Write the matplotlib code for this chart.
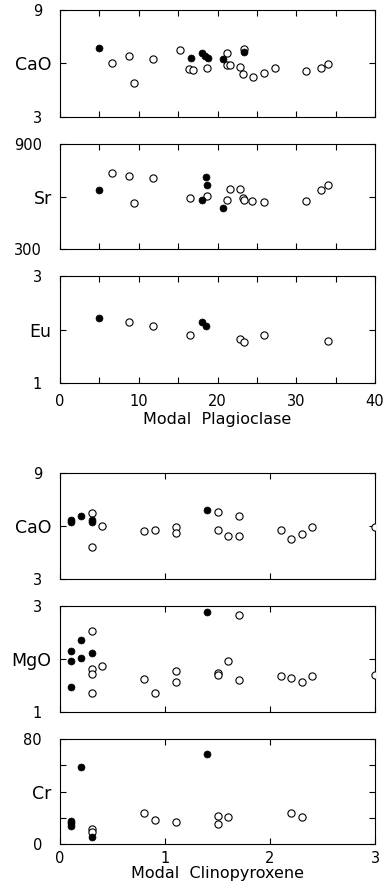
import matplotlib
matplotlib.use("Agg")
import matplotlib.pyplot as plt
from matplotlib.ticker import FixedLocator

plt.rcParams['font.family'] = ['DejaVu Sans']

# ---------------- Top group: vs Modal Plagioclase ----------------
plag_cao_filled_x = [4.9, 16.6, 18.0, 18.4, 18.8, 20.7, 23.3]
plag_cao_filled_y = [6.88, 6.28, 6.56, 6.43, 6.32, 6.26, 6.62]
plag_cao_open_x = [6.6, 8.8, 9.35, 11.8, 15.2, 16.4, 16.9, 18.7, 21.2, 21.2, 21.6,
                   22.9, 23.2, 23.3, 24.5, 25.9, 27.3, 31.2, 33.1, 34.0]
plag_cao_open_y = [6.02, 6.41, 4.88, 6.26, 6.73, 5.70, 5.62, 5.76, 6.56, 5.94, 5.91,
                   5.81, 5.40, 6.79, 5.27, 5.46, 5.76, 5.57, 5.76, 5.96]

plag_sr_filled_x = [4.9, 18.5, 18.7, 18.0, 20.7]
plag_sr_filled_y = [638, 710, 666, 583, 532]
plag_sr_open_x = [6.6, 8.8, 9.35, 11.8, 16.5, 18.7, 21.2, 21.6, 22.9, 23.2, 23.4,
                  24.4, 25.9, 31.2, 33.1, 34.0]
plag_sr_open_y = [737, 720, 564, 704, 590, 604, 579, 646, 646, 590, 583,
                  575, 568, 577, 638, 665]

plag_eu_filled_x = [4.9, 18.0, 18.6]
plag_eu_filled_y = [2.22, 2.14, 2.07]
plag_eu_open_x = [8.8, 11.8, 16.5, 22.9, 23.3, 25.9, 34.0]
plag_eu_open_y = [2.14, 2.06, 1.90, 1.82, 1.76, 1.90, 1.79]

# ---------------- Bottom group: vs Modal Clinopyroxene ----------------
cpx_cao_filled_x = [0.1, 0.1, 0.2, 0.3, 0.3, 1.4]
cpx_cao_filled_y = [6.22, 6.32, 6.55, 6.35, 6.22, 6.89]
cpx_cao_open_x = [0.3, 0.3, 0.4, 0.8, 0.9, 1.1, 1.1, 1.5, 1.5, 1.6, 1.7, 1.7,
                  2.1, 2.2, 2.3, 2.4, 3.0]
cpx_cao_open_y = [6.72, 4.81, 6.0, 5.70, 5.75, 5.94, 5.60, 6.77, 5.79, 5.45, 6.55, 5.42,
                  5.75, 5.26, 5.55, 5.92, 5.94]

cpx_mgo_filled_x = [0.1, 0.1, 0.1, 0.2, 0.2, 0.3, 1.4]
cpx_mgo_filled_y = [2.15, 1.96, 1.47, 2.36, 2.02, 2.12, 2.89]
cpx_mgo_open_x = [0.3, 0.3, 0.3, 0.3, 0.4, 0.8, 0.9, 1.1, 1.1, 1.5, 1.5, 1.6, 1.7, 1.7,
                  2.1, 2.2, 2.3, 2.4, 3.0]
cpx_mgo_open_y = [2.53, 1.82, 1.71, 1.35, 1.87, 1.62, 1.35, 1.78, 1.57, 1.74, 1.69, 1.96,
                  1.61, 2.83, 1.68, 1.64, 1.57, 1.68, 1.69]

cpx_cr_filled_x = [0.2, 1.4, 0.1, 0.1, 0.1, 0.3]
cpx_cr_filled_y = [59.1, 68.5, 17.6, 15.8, 13.8, 5.1]
cpx_cr_open_x = [0.3, 0.3, 0.8, 0.9, 1.1, 1.5, 1.5, 1.6, 2.2, 2.3]
cpx_cr_open_y = [11.2, 8.8, 23.4, 18.3, 17.1, 21.4, 15.3, 20.9, 23.9, 20.9]

panels = [
    dict(rect=[0.1567, 0.8687, 0.8225, 0.1201], ylim=(3, 9), yt=[3, 9], ylab=['3', '9'],
         mid=6, name='CaO', f=(plag_cao_filled_x, plag_cao_filled_y),
         o=(plag_cao_open_x, plag_cao_open_y), xlim=(0, 40),
         xt=[0, 10, 20, 30, 40], xm=[5, 15, 25, 35], xl=None),
    dict(rect=[0.1567, 0.7205, 0.8225, 0.1178], ylim=(300, 900), yt=[300, 900], ylab=['300', '900'],
         mid=600, name='Sr', f=(plag_sr_filled_x, plag_sr_filled_y),
         o=(plag_sr_open_x, plag_sr_open_y), xlim=(0, 40),
         xt=[0, 10, 20, 30, 40], xm=[5, 15, 25, 35], xl=None),
    dict(rect=[0.1567, 0.5701, 0.8225, 0.1201], ylim=(1, 3), yt=[1, 3], ylab=['1', '3'],
         mid=2, name='Eu', f=(plag_eu_filled_x, plag_eu_filled_y),
         o=(plag_eu_open_x, plag_eu_open_y), xlim=(0, 40),
         xt=[0, 10, 20, 30, 40], xm=[5, 15, 25, 35], xl='Modal  Plagioclase',
         tpad=8, lpad=2),
    dict(rect=[0.1567, 0.3502, 0.8225, 0.1190], ylim=(3, 9), yt=[3, 9], ylab=['3', '9'],
         mid=6, name='CaO', f=(cpx_cao_filled_x, cpx_cao_filled_y),
         o=(cpx_cao_open_x, cpx_cao_open_y), xlim=(0, 3),
         xt=[0, 1, 2, 3], xm=[], xl=None),
    dict(rect=[0.1567, 0.2009, 0.8225, 0.1190], ylim=(1, 3), yt=[1, 3], ylab=['1', '3'],
         mid=2, name='MgO', f=(cpx_mgo_filled_x, cpx_mgo_filled_y),
         o=(cpx_mgo_open_x, cpx_mgo_open_y), xlim=(0, 3),
         xt=[0, 1, 2, 3], xm=[], xl=None),
    dict(rect=[0.1567, 0.0527, 0.8225, 0.1178], ylim=(0, 80), yt=[0, 20, 60, 80],
         ylab=['0', '', '', '80'],
         mid=40, name='Cr', f=(cpx_cr_filled_x, cpx_cr_filled_y),
         o=(cpx_cr_open_x, cpx_cr_open_y), xlim=(0, 3),
         xt=[0, 1, 2, 3], xm=[], xl='Modal  Clinopyroxene', tpad=5, lpad=0),
]

fig = plt.figure(figsize=(3.83, 8.91), dpi=100)

for p in panels:
    ax = fig.add_axes(p['rect'])
    ax.plot(p['o'][0], p['o'][1], linestyle='none', marker='o', markersize=5.2,
            markerfacecolor='white', markeredgecolor='black', markeredgewidth=0.8, zorder=3)
    ax.plot(p['f'][0], p['f'][1], linestyle='none', marker='o', markersize=5.0,
            markerfacecolor='black', markeredgecolor='black', markeredgewidth=0.5, zorder=4)
    ax.set_xlim(*p['xlim'])
    ax.set_ylim(*p['ylim'])
    for s in ax.spines.values():
        s.set_linewidth(0.8)
    # y ticks: numbers as major ticks, element name as a minor tick label
    ax.set_yticks(p['yt'])
    ax.set_yticklabels(p['ylab'])
    ax.yaxis.set_minor_locator(FixedLocator([p['mid']]))
    ax.set_yticks([p['mid']], minor=True)
    ax.set_yticklabels([p['name']], minor=True)
    ax.tick_params(axis='y', which='major', direction='in', left=True, right=True,
                   length=4, width=0.8, pad=13, labelsize=10.5)
    ax.tick_params(axis='y', which='minor', direction='in', left=True, right=True,
                   length=4, width=0.8, pad=6, labelsize=12.5)
    # x ticks
    ax.set_xticks(p['xt'])
    if p['xm']:
        ax.set_xticks(p['xm'], minor=True)
    ax.tick_params(axis='x', which='both', direction='in', top=True, bottom=True,
                   length=4, width=0.8, pad=p.get('tpad', 8), labelsize=10.5)
    if p['xl'] is None:
        ax.tick_params(axis='x', which='both', labelbottom=False)
    else:
        ax.set_xticklabels([str(v) for v in p['xt']])
        ax.set_xlabel(p['xl'], fontsize=11.5, labelpad=p['lpad'])

fig.savefig('out.png', dpi=100)
